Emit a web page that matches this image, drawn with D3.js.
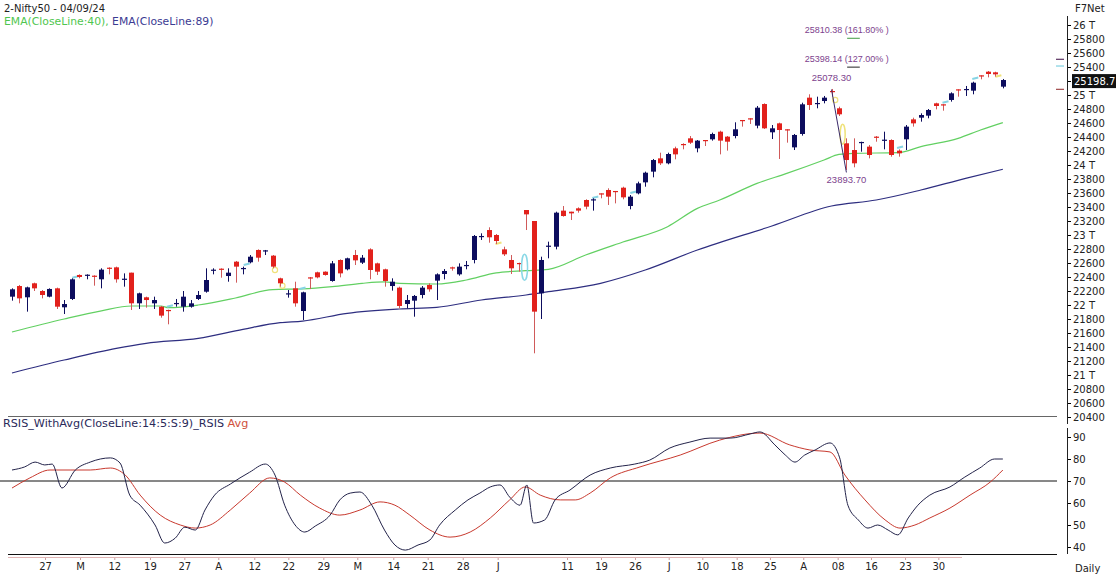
<!DOCTYPE html>
<html>
<head>
<meta charset="utf-8">
<script src="https://cdn.jsdelivr.net/npm/d3@7"></script>
<style>
  body { margin: 0; background: #fff; }
  svg text { font-family: "DejaVu Sans", Verdana, sans-serif; }
  svg text.ann { font-family: "Liberation Sans", Arial, sans-serif; }
</style>
</head>
<body>
<div id="chart"></div>
<script>
// daily candles, 20 Feb 2024 -> 04 Sep 2024
const opens = [22119,22271,22110,22310,22200,22119,22238,21967,22086,22429,22424,22419,22367,22533,22538,22367,22462,22024,22110,22024,21976,21929,22019,21976,21976,22086,22190,22495,22519,22414,22619,22519,22610,22786,22771,22705,22381,22162,22238,21914,22395,22467,22476,22343,22643,22510,22714,22605,22795,22595,22510,22271,22248,22014,22062,22143,22286,22348,22443,22538,22438,22567,22643,22981,23071,23000,22795,22643,22600,23357,23200,22167,22833,22833,23348,23333,23381,23500,23505,23595,23643,23629,23676,23414,23595,23752,23905,24095,24024,24238,24300,24381,24238,24357,24367,24476,24405,24414,24643,24667,24562,24871,24467,24595,24510,24252,24443,24962,24876,24914,25057,24810,24310,24214,24324,24262,24405,24352,24357,24205,24367,24652,24676,24705,24881,24867,24929,25081,25076,25062,25281,25333,25324,25119];
const highs = [22238,22286,22262,22319,22214,22238,22248,22071,22381,22438,22438,22424,22524,22538,22548,22452,22462,22176,22119,22119,21986,21933,22086,22200,22071,22200,22524,22524,22524,22524,22629,22548,22714,22795,22786,22714,22390,22214,22333,22190,22400,22476,22481,22629,22652,22676,22786,22714,22810,22605,22519,22381,22262,22143,22143,22271,22310,22452,22514,22548,22595,22629,23000,23024,23110,23014,22833,22714,22605,23357,23200,22690,22905,23333,23414,23333,23395,23510,23524,23595,23667,23629,23690,23571,23762,23905,24086,24176,24176,24262,24310,24414,24357,24357,24462,24490,24414,24610,24643,24667,24843,24881,24571,24605,24510,24443,24890,25010,24976,24986,25086,24833,24381,24381,24333,24286,24414,24476,24367,24224,24571,24676,24738,24800,24890,24867,25038,25081,25129,25190,25281,25343,25333,25229];
const lows = [22062,22024,21905,22200,22095,22110,21943,21871,22071,22381,22367,22276,22238,22438,22319,22262,21929,21943,21962,21943,21819,21724,21976,21905,21962,22071,22176,22438,22390,22333,22319,22438,22595,22619,22714,22524,22262,22105,21976,21786,22229,22381,22419,22333,22395,22495,22571,22586,22367,22429,22262,22205,21952,21952,21833,22095,22190,22071,22367,22490,22419,22510,22595,22929,22890,22871,22700,22443,22476,23071,21310,21800,22667,22795,23262,23214,23319,23367,23348,23524,23429,23452,23510,23367,23581,23690,23824,24000,24010,24081,24224,24300,24181,24271,24348,24152,24205,24381,24548,24586,24524,24514,24371,24086,24319,24214,24419,24786,24810,24881,24976,24700,23929,23967,24190,24095,24333,24224,24119,24119,24214,24548,24619,24667,24795,24776,24905,24976,24986,25010,25224,25252,25262,25095];
const closes = [22224,22095,22252,22238,22143,22229,21976,22014,22367,22400,22433,22410,22505,22524,22367,22376,22024,22167,22071,22071,21848,21914,22029,22119,22024,22143,22357,22505,22510,22462,22548,22529,22690,22676,22781,22548,22310,22167,22024,22181,22381,22395,22429,22595,22452,22667,22638,22676,22500,22476,22343,22333,21986,22071,22129,22248,22224,22438,22486,22529,22548,22572,22986,22986,22967,22914,22724,22524,22586,23295,21905,22643,22848,23319,23271,23309,23348,23405,23510,23586,23548,23619,23538,23548,23738,23890,24071,24024,24157,24152,24290,24319,24348,24343,24443,24348,24333,24510,24629,24652,24819,24524,24524,24500,24495,24429,24867,24857,24886,24962,25043,24724,24071,24024,24329,24143,24390,24362,24143,24167,24548,24595,24714,24786,24843,24852,25024,25067,25086,25176,25267,25300,25295,25214];

// EMA readings: [candle index, value]
const ema40 = [[0,21614],[7,21800],[12,21917],[16,21986],[20,21986],[21,21962],[25,22000],[30,22100],[35,22221],[39,22230],[43,22262],[47,22310],[50,22330],[52,22310],[57,22300],[61,22357],[65,22460],[69,22490],[72,22510],[77,22714],[82,22900],[88,23119],[92,23380],[95,23500],[100,23738],[104,23880],[109,24071],[111,24152],[113,24167],[119,24176],[122,24262],[127,24381],[130,24500],[133,24605]];
const ema89 = [[0,21029],[7,21214],[14,21381],[18,21453],[25,21524],[31,21653],[36,21748],[39,21771],[45,21881],[52,21943],[57,21967],[63,22071],[69,22143],[72,22190],[79,22310],[85,22500],[92,22786],[102,23129],[110,23414],[116,23500],[122,23643],[128,23810],[133,23939]];

// RSI(14) and its average: [candle index, value]
const rsi = [[0,75],[1.7,76.4],[3.1,78.6],[4.4,77.3],[5.4,77.7],[6.7,66.8],[8.5,75],[10.5,78.6],[13.2,80.5],[14.5,78.2],[15.8,63.6],[17.2,59],[19.2,50],[20.5,41.8],[21.9,44],[23.2,49],[24.6,47.7],[25.9,56.8],[27.2,63.6],[29.3,68.6],[31.9,74],[34,77.7],[35.3,72.7],[36.6,59],[38,50],[39.3,46.8],[40.7,49.5],[42.7,54.5],[44,61.4],[45.4,64.5],[46.7,65],[48.3,59],[50,47.7],[51.4,40.9],[52.8,38.6],[54.5,40.9],[56.1,43.2],[57.4,50],[59.5,56.8],[61.2,61.4],[62.8,64.5],[64.2,67.3],[65.5,68.2],[66.8,62.7],[68.2,59],[69.1,68.2],[70,50.9],[71.5,52.3],[72.9,61.4],[74.9,65.9],[77.6,72.7],[80.3,75.9],[83.6,77.7],[85.6,79.5],[88.3,85],[91,87.7],[93.7,89.5],[96.4,89.5],[99.1,91.4],[100.4,92.3],[102.4,86.4],[103.8,81.8],[105.1,78.6],[106.4,81.8],[107.8,84.1],[109.8,87.3],[111.1,80.5],[112.2,59],[113.6,52.3],[114.9,48.6],[116.2,50],[117.6,47.7],[118.9,45.5],[120.3,53.2],[121.6,59],[123.2,63.6],[125.9,67.3],[127.9,71.8],[129.9,75.9],[131.9,80],[133,80]];
const rsiAvg = [[0,66.8],[2.4,71.4],[5.1,75],[7.8,75],[10.5,75],[13.2,75.9],[15.2,72.7],[17.2,63.6],[19.9,54.5],[22.6,50],[24.6,48.6],[26.6,50],[29.3,56.8],[31.9,64.5],[34.6,71.4],[36.6,69.5],[38.7,63.6],[41.3,57.7],[44,54.5],[46.7,56.8],[49.4,60.5],[51.4,59],[53.4,54.5],[56.1,47.7],[58.8,44.5],[61.5,46.8],[64.2,53.2],[66.8,61.4],[68.9,67.3],[70.9,63.6],[73.6,61.4],[75.6,61.4],[77.6,64.5],[80.3,71.4],[84.3,76.4],[89.7,81.8],[95,88.6],[100.4,91.8],[104.4,86.4],[107.1,84.1],[109.8,83.2],[111.8,72.7],[114.5,61.4],[117.2,52.3],[119.2,48.6],[121.2,50],[123.2,53.2],[125.9,57.7],[128.6,63.6],[131.3,69.5],[133,75]];

// date axis: labels and where they sit (candle index)
const dateLabels = ["27","M","12","19","27","A","12","22","29","M","14","21","28","J","11","19","26","J","10","18","25","A","08","16","23","30"];
const dateTickIdx = [4.43,9.13,13.73,18.52,23.13,27.69,32.52,37.09,41.79,46.35,51.18,55.8,60.5,65.19,74.5,79.06,83.62,88.15,92.66,97.27,101.74,106.21,110.83,115.3,119.87,124.34];

// small gap markers the platform paints between candles: [index, price, kind]
const gapMarks = [[8.5,22390,"c"],[21.2,21976,"c"],[31.5,22571,"c"],[35.3,22500,"y"],[36.3,22276,"y"],[39,22229,"c"],[65.3,22871,"yd"],[78.3,23529,"c"],[83.4,23600,"c"],[110.5,24929,"y"],[119.2,24243,"c"],[125.3,24890,"c"],[129.3,25229,"c"],[132.4,25262,"yd"]];

// swing high / low and fibonacci projections
const swingHigh = { idx: 110, value: 25078.30 };
const swingLow = { idx: 112, value: 23893.70 };
const fibLevels = [
  { value: 25810.38, pct: "161.80%", color: "#3f9a3f" },
  { value: 25398.14, pct: "127.00%", color: "#222" },
];
const lastClose = 25198.7;

const W = 1116, H = 577;
const upColor = "#0d0d5e", downColor = "#e2211c";

const svg = d3.select("#chart").append("svg").attr("width", W).attr("height", H);

const x = d3.scaleLinear().domain([0, opens.length - 1]).range([12, 12 + (opens.length - 1) * 7.45]);
const y = d3.scaleLinear().domain([20400, 26000]).range([417, 25]);
const yR = d3.scaleLinear().domain([40, 90]).range([547, 437]);

const axisX = 1067;

// ---- titles
svg.append("text").attr("x", 4).attr("y", 12).style("font-size", "10px").attr("fill", "#222").text("2-Nifty50 - 04/09/24");
const leg = svg.append("text").attr("x", 4).attr("y", 25).style("font-size", "10.8px");
leg.append("tspan").attr("fill", "#4fc64f").text("EMA(CloseLine:40), ");
leg.append("tspan").attr("fill", "#3b3b92").text("EMA(CloseLine:89)");
svg.append("text").attr("x", 1075).attr("y", 12).style("font-size", "10px").attr("fill", "#222").text("F7Net");

// ---- price pane
const priceG = svg.append("g");

// EMA lines
const emaLine = d3.line().x((d) => x(d[0])).y((d) => y(d[1])).curve(d3.curveMonotoneX);
priceG.append("path").datum(ema40).attr("d", emaLine).attr("fill", "none").attr("stroke", "#62d062").attr("stroke-width", 1.2);
priceG.append("path").datum(ema89).attr("d", emaLine).attr("fill", "none").attr("stroke", "#2e2e80").attr("stroke-width", 1.2);

// gap markers
gapMarks.forEach(([i, v, k]) => {
  if (k === "y") {
    priceG.append("circle").attr("cx", x(i)).attr("cy", y(v)).attr("r", 2.6)
      .attr("fill", "none").attr("stroke", "#f0e27a").attr("stroke-width", 1.2);
  } else {
    priceG.append("line").attr("x1", x(i) - 3).attr("x2", x(i) + 3).attr("y1", y(v)).attr("y2", y(v) - 1.5)
      .attr("stroke", k === "c" ? "#86d4e4" : "#f0e27a").attr("stroke-width", 2);
  }
});

// candles
const candles = opens.map((o, i) => ({ i, o, h: highs[i], l: lows[i], c: closes[i] }));
const cg = priceG.selectAll("g.candle").data(candles).enter().append("g").attr("class", "candle");
cg.append("line")
  .attr("x1", (d) => Math.round(x(d.i)) + 0.5)
  .attr("x2", (d) => Math.round(x(d.i)) + 0.5)
  .attr("y1", (d) => y(d.h))
  .attr("y2", (d) => y(d.l))
  .attr("stroke", (d) => (d.c >= d.o ? upColor : "#d05a5a"))
  .attr("stroke-width", 1);
cg.append("rect")
  .attr("x", (d) => Math.round(x(d.i)) - 2)
  .attr("width", 5)
  .attr("y", (d) => y(Math.max(d.o, d.c)))
  .attr("height", (d) => Math.max(1.2, Math.abs(y(d.o) - y(d.c))))
  .attr("fill", (d) => (d.c >= d.o ? upColor : downColor));

// gap ellipses
priceG.append("ellipse").attr("cx", x(68.8)).attr("cy", y(22540)).attr("rx", 3).attr("ry", 13)
  .attr("fill", "none").attr("stroke", "#8ad8e6").attr("stroke-width", 1.5);
priceG.append("ellipse").attr("cx", x(111.5)).attr("cy", y(24440)).attr("rx", 2.5).attr("ry", 10)
  .attr("fill", "none").attr("stroke", "#efe27a").attr("stroke-width", 1.5);

// swing annotation
const annColor = "#7d3f8e";
priceG.append("line")
  .attr("x1", x(swingHigh.idx)).attr("y1", y(swingHigh.value))
  .attr("x2", x(swingLow.idx)).attr("y2", y(swingLow.value))
  .attr("stroke", "#3a2a6a").attr("stroke-width", 1);
priceG.append("text").attr("class", "ann").attr("x", x(swingHigh.idx)).attr("y", y(swingHigh.value) - 9)
  .attr("text-anchor", "middle").style("font-size", "9.5px").attr("fill", annColor).text(swingHigh.value.toFixed(2));
priceG.append("text").attr("class", "ann").attr("x", x(swingLow.idx)).attr("y", y(swingLow.value) + 11)
  .attr("text-anchor", "middle").style("font-size", "9.5px").attr("fill", annColor).text(swingLow.value.toFixed(2));
fibLevels.forEach((f) => {
  priceG.append("line").attr("x1", x(112.1)).attr("x2", x(113.8))
    .attr("y1", y(f.value)).attr("y2", y(f.value)).attr("stroke", f.color).attr("stroke-width", 1);
  priceG.append("text").attr("class", "ann").attr("x", x(106.4)).attr("y", y(f.value) - 5)
    .style("font-size", "9px").attr("fill", annColor).text(`${f.value.toFixed(2)} (${f.pct} )`);
});

// level marks near the axis
[[25510, "#5a3060"], [25414, "#7fd0e0"], [25081, "#a04848"]].forEach(([v, c]) => {
  svg.append("line").attr("x1", 1056).attr("x2", 1064).attr("y1", y(v)).attr("y2", y(v)).attr("stroke", c).attr("stroke-width", 1.2);
});

// price axis (the 25200 label sits under the last value box)
const priceTicks = d3.range(20400, 26001, 200);
const yAxis = d3.axisRight(y).tickValues(priceTicks).tickSize(4).tickPadding(2)
  .tickFormat((v) => (v === 25200 ? "" : v % 1000 === 0 ? `${v / 1000} T` : `${v}`));
const yAxisG = svg.append("g").attr("transform", `translate(${axisX},0)`).call(yAxis);
yAxisG.select(".domain").remove();
yAxisG.selectAll("text").style("font-size", "10px").attr("fill", "#222");
svg.append("line").attr("x1", axisX + 0.5).attr("x2", axisX + 0.5).attr("y1", 16).attr("y2", 424).attr("stroke", "#222");

// last value box
svg.append("rect").attr("x", axisX + 5).attr("y", y(lastClose) - 7).attr("width", 45).attr("height", 14).attr("fill", "#111");
svg.append("text").attr("x", axisX + 7).attr("y", y(lastClose) + 4).style("font-size", "10px").attr("fill", "#fff").text(lastClose);

// pane separator
svg.append("line").attr("x1", 8).attr("x2", 1057).attr("y1", 416.5).attr("y2", 416.5).attr("stroke", "#666");

// ---- RSI pane
const rsiG = svg.append("g");
const rl = svg.append("text").attr("x", 3).attr("y", 427).style("font-size", "11.2px");
rl.append("tspan").attr("fill", "#2a2a5a").text("RSIS_WithAvg(CloseLine:14:5:S:9)_RSIS ");
rl.append("tspan").attr("fill", "#d0503c").text("Avg");

rsiG.append("line").attr("x1", 0).attr("x2", 1057).attr("y1", yR(70)).attr("y2", yR(70)).attr("stroke", "#111");
const rsiLine = d3.line().x((d) => x(d[0])).y((d) => yR(d[1])).curve(d3.curveMonotoneX);
rsiG.append("path").datum(rsiAvg).attr("d", rsiLine).attr("fill", "none").attr("stroke", "#c8392e").attr("stroke-width", 1);
rsiG.append("path").datum(rsi).attr("d", rsiLine).attr("fill", "none").attr("stroke", "#23234a").attr("stroke-width", 1);

const rAxis = d3.axisRight(yR).tickValues([40, 50, 60, 70, 80, 90]).tickSize(4).tickPadding(2);
const rAxisG = svg.append("g").attr("transform", `translate(${axisX},0)`).call(rAxis);
rAxisG.select(".domain").remove();
rAxisG.selectAll("text").style("font-size", "10px").attr("fill", "#222");
svg.append("line").attr("x1", axisX + 0.5).attr("x2", axisX + 0.5).attr("y1", 428).attr("y2", 554).attr("stroke", "#222");

svg.append("line").attr("x1", 8).attr("x2", 1057).attr("y1", 554.5).attr("y2", 554.5).attr("stroke", "#111");

// ---- date axis
const xAxis = d3.axisBottom(x).tickValues(dateTickIdx).tickSize(3).tickPadding(3)
  .tickFormat((d, i) => dateLabels[i]);
const xAxisG = svg.append("g").attr("transform", "translate(0,557)").call(xAxis);
xAxisG.select(".domain").remove();
xAxisG.selectAll(".tick line").attr("stroke", "#c9a0a0");
xAxisG.selectAll("text").style("font-size", "10px").attr("fill", "#222");
svg.append("line").attr("x1", 8).attr("x2", 962).attr("y1", 557.5).attr("y2", 557.5).attr("stroke", "#e0b4b4");

svg.append("text").attr("x", 1075).attr("y", 572).style("font-size", "10px").attr("fill", "#222").text("Daily");
</script>
</body>
</html>
